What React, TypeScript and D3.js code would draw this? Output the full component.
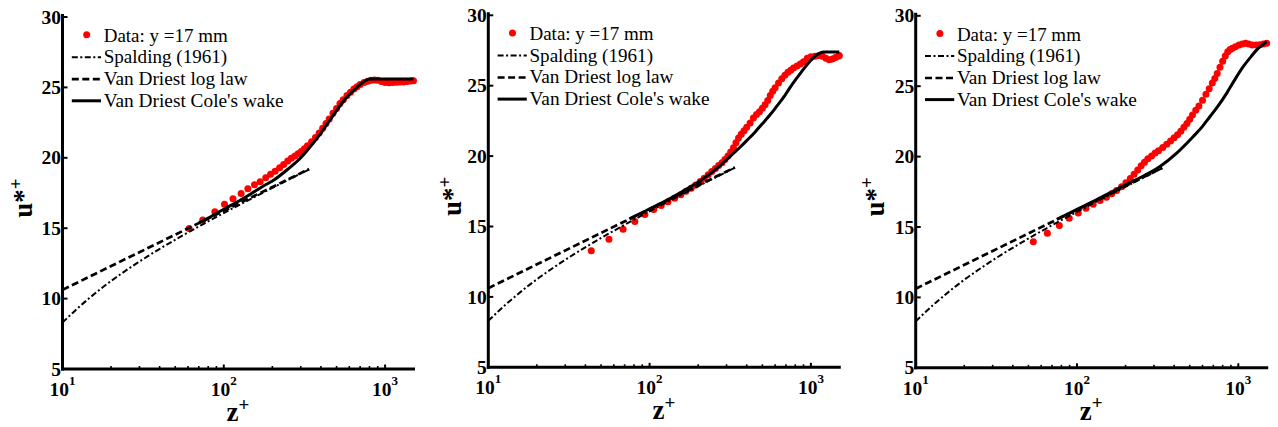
import React from 'react';
import * as d3 from 'd3';

// ---------- data ----------
const data1Z = [61, 74, 88, 101, 114, 128, 141, 155, 168, 182, 195, 208, 222, 235, 249, 262, 276, 289, 302, 316, 330, 350, 370, 390, 410, 430, 450, 475, 500, 525, 550, 580, 610, 640, 670, 700, 740, 780, 820, 860, 900, 950, 1000, 1060, 1120, 1180, 1240, 1300, 1370, 1440, 1500];
const data1U = [14.98, 15.58, 16.16, 16.7, 17.1, 17.46, 17.8, 18.08, 18.3, 18.58, 18.84, 19.05, 19.3, 19.52, 19.77, 19.96, 20.12, 20.28, 20.45, 20.64, 20.85, 21.14, 21.45, 21.77, 22.1, 22.43, 22.75, 23.16, 23.5, 23.85, 24.12, 24.42, 24.66, 24.88, 25.05, 25.2, 25.35, 25.43, 25.5, 25.52, 25.5, 25.42, 25.35, 25.33, 25.35, 25.36, 25.38, 25.38, 25.42, 25.45, 25.48];

const data2Z = [43.5, 56, 68.5, 81, 93.5, 106, 118, 130, 143, 156, 168, 181, 193, 206, 218, 231, 243, 256, 268, 281, 293, 306, 318, 331, 343, 356, 370, 385, 400, 420, 440, 460, 480, 500, 520, 540, 560, 580, 600, 630, 660, 690, 720, 750, 780, 820, 860, 900, 950, 1000, 1060, 1120, 1180, 1240, 1300, 1360, 1420, 1480, 1500];
const data2U = [13.28, 14.1, 14.8, 15.36, 15.86, 16.2, 16.5, 16.75, 17.0, 17.25, 17.5, 17.72, 17.95, 18.2, 18.43, 18.68, 18.9, 19.12, 19.33, 19.53, 19.75, 20.0, 20.3, 20.6, 20.95, 21.28, 21.55, 21.8, 22.05, 22.35, 22.7, 22.95, 23.15, 23.4, 23.65, 23.95, 24.3, 24.6, 24.85, 25.2, 25.5, 25.75, 25.95, 26.1, 26.25, 26.4, 26.55, 26.7, 26.95, 27.05, 27.1, 27.15, 27.1, 26.95, 26.85, 26.9, 27.0, 27.1, 27.15];

const data3Z = [53.6, 65.5, 77.7, 89.5, 101.8, 113.6, 126, 139, 152, 164, 176, 189, 201, 214, 226, 238, 250, 262, 275, 290, 305, 320, 340, 360, 380, 400, 420, 440, 460, 480, 500, 520, 545, 570, 600, 630, 660, 690, 715, 740, 770, 800, 830, 860, 890, 920, 960, 1010, 1060, 1110, 1160, 1220, 1290, 1360, 1430, 1500];
const data3U = [13.95, 14.55, 15.1, 15.63, 16.0, 16.34, 16.62, 16.89, 17.12, 17.36, 17.6, 17.86, 18.15, 18.45, 18.75, 19.05, 19.35, 19.6, 19.85, 20.05, 20.25, 20.42, 20.65, 20.88, 21.1, 21.33, 21.55, 21.8, 22.08, 22.35, 22.65, 22.95, 23.3, 23.6, 24.0, 24.42, 24.82, 25.22, 25.55, 25.9, 26.35, 26.78, 27.15, 27.45, 27.6, 27.7, 27.8, 27.92, 28.0, 28.05, 28.0, 27.92, 27.92, 27.95, 28.0, 28.05];

const spaldingZ = [10, 11.6, 12.95, 14.55, 16.45, 18.7, 21.45, 24.76, 28.78, 33.67, 39.66, 46.98, 55.95, 66.98, 80.5, 97.1, 117.5, 142.5, 173.3, 211.2, 257.6, 314.8, 338];
const spaldingU = [8.3, 9.0, 9.5, 10, 10.5, 11, 11.5, 12, 12.5, 13, 13.5, 14, 14.5, 15, 15.5, 16, 16.5, 17, 17.5, 18, 18.5, 19, 19.17];

const logLawZ = [10, 338];
const logLawU = [10.62, 19.2];

const wake1Z = [70, 80, 100, 125, 150, 175, 200, 250, 300, 350, 400, 450, 500, 550, 600, 650, 700, 750, 800, 1500];
const wake1U = [15.38, 15.72, 16.35, 16.95, 17.5, 17.98, 18.35, 19.2, 20.0, 20.9, 21.75, 22.6, 23.35, 24.0, 24.5, 24.88, 25.2, 25.45, 25.6, 25.6];

const wake2Z = [75, 80, 100, 125, 150, 178, 200, 250, 300, 350, 400, 450, 500, 560, 620, 680, 740, 800, 870, 940, 1000, 1060, 1130, 1200, 1500];
const wake2U = [15.54, 15.7, 16.25, 16.8, 17.3, 17.8, 18.15, 18.95, 19.75, 20.45, 21.1, 21.7, 22.3, 22.95, 23.6, 24.2, 24.85, 25.4, 25.95, 26.45, 26.8, 27.1, 27.3, 27.4, 27.4];

const wake3Z = [75, 80, 100, 130, 160, 200, 258, 327, 415, 526, 600, 668, 750, 848, 950, 1075, 1200, 1300, 1400, 1500];
const wake3U = [15.54, 15.7, 16.25, 16.9, 17.42, 18.0, 18.62, 19.3, 20.25, 21.43, 22.15, 22.85, 23.6, 24.51, 25.45, 26.4, 27.1, 27.58, 27.9, 28.15];

const yTicks = [5, 10, 15, 20, 25, 30];
const xMajorTicks = [10, 100, 1000];
const xMajorExp = ['1', '2', '3'];
const xMinorTicks = [20, 30, 40, 50, 60, 70, 80, 90, 200, 300, 400, 500, 600, 700, 800, 900];
const legendLabels = ['Data: y =17 mm', 'Spalding (1961)', 'Van Driest log law', "Van Driest Cole's wake"];
const legendWidths = [124, 123.5, 144, 180];

// ---------- layout ----------
const W = 1278;
const H = 427;
const PLOT_W = 351;
const PLOT_H = 352;
const FONT = "'Liberation Serif', 'Times New Roman', Times, serif";
const DASHDOT = '6,2.5,2,2.5';
const DASH = '7,3.5';

const layouts = [
  { left: 62.5, top: 17, ylabelDx: -30.5 },
  { left: 488.3, top: 15.3, ylabelDx: -27 },
  { left: 915.7, top: 15.8, ylabelDx: -32 },
];

const zip = (a: number[], b: number[]): [number, number][] => a.map((v, i) => [v, b[i]]);

type PanelProps = {
  layout: { left: number; top: number; ylabelDx: number };
  dataZ: number[];
  dataU: number[];
  wakeZ: number[];
  wakeU: number[];
};

function Panel({ layout, dataZ, dataU, wakeZ, wakeU }: PanelProps) {
  const { left, top, ylabelDx } = layout;
  const bottom = top + PLOT_H;
  const right = left + PLOT_W;
  const x = d3.scaleLog().domain([10, 1500]).range([left, right]);
  const y = d3.scaleLinear().domain([5, 30]).range([bottom, top]);
  const smooth = d3
    .line<[number, number]>()
    .x((d) => x(d[0]))
    .y((d) => y(d[1]))
    .curve(d3.curveMonotoneX);
  const straight = d3
    .line<[number, number]>()
    .x((d) => x(d[0]))
    .y((d) => y(d[1]));

  const data = zip(dataZ, dataU);
  const cx = (left + right) / 2;

  return (
    <g>
      {/* data points */}
      {data.map((d, i) => (
        <circle key={'d' + i} cx={x(d[0])} cy={y(d[1])} r={3.5} fill="#ff0000" />
      ))}
      {/* Spalding */}
      <path d={smooth(zip(spaldingZ, spaldingU)) || ''} fill="none" stroke="#000" strokeWidth={2} strokeDasharray={DASHDOT} />
      {/* log law */}
      <path d={straight(zip(logLawZ, logLawU)) || ''} fill="none" stroke="#000" strokeWidth={2.7} strokeDasharray={DASH} />
      {/* Cole's wake */}
      <path d={smooth(zip(wakeZ, wakeU)) || ''} fill="none" stroke="#000" strokeWidth={3} />

      {/* axes */}
      <line x1={left} y1={top - 1.5} x2={left} y2={bottom} stroke="#000" strokeWidth={3} strokeLinecap="square" />
      <line x1={left} y1={bottom} x2={right} y2={bottom} stroke="#000" strokeWidth={3} strokeLinecap="square" />
      {yTicks.slice(1).map((t) => (
        <line key={'yt' + t} x1={left} x2={left + 5} y1={y(t)} y2={y(t)} stroke="#000" strokeWidth={2} />
      ))}
      {xMajorTicks.slice(1).map((t) => (
        <line key={'xt' + t} x1={x(t)} x2={x(t)} y1={bottom} y2={bottom - 4.5} stroke="#000" strokeWidth={2} />
      ))}
      {xMinorTicks.map((t) => (
        <line key={'xm' + t} x1={x(t)} x2={x(t)} y1={bottom} y2={bottom - 3} stroke="#000" strokeWidth={1.6} />
      ))}

      {/* tick labels */}
      {yTicks.map((t) => (
        <text key={'yl' + t} x={left - 1.5} y={y(t)} dy="0.34em" textAnchor="end" fontFamily={FONT} fontSize={19.5} fontWeight="bold" fill="#000">
          {t}
        </text>
      ))}
      {xMajorTicks.map((t, i) => (
        <text key={'xl' + t} x={x(t)} y={bottom + 27} textAnchor="middle" fontFamily={FONT} fontSize={19.5} fontWeight="bold" fill="#000">
          10
          <tspan dy={-11} fontSize={13}>{xMajorExp[i]}</tspan>
        </text>
      ))}

      {/* axis labels */}
      <text x={cx} y={bottom + 52} textAnchor="middle" fontFamily={FONT} fontSize={27} fontWeight="bold" fill="#000">
        z<tspan dy={-10.5} fontSize={19}>+</tspan>
      </text>
      <text transform={`translate(${left + ylabelDx},${top + 181}) rotate(-90)`} textAnchor="middle" fontFamily={FONT} fontSize={27} fontWeight="bold" fill="#000">
        u*<tspan dy={-10.5} fontSize={19}>+</tspan>
      </text>

      {/* legend */}
      <circle cx={left + 24.2} cy={top + 17.7} r={3.5} fill="#ff0000" />
      <line x1={left + 9.3} x2={left + 38.5} y1={top + 40.3} y2={top + 40.3} stroke="#000" strokeWidth={2} strokeDasharray={DASHDOT} />
      <line x1={left + 9.3} x2={left + 38.5} y1={top + 62.2} y2={top + 62.2} stroke="#000" strokeWidth={2.7} strokeDasharray={DASH} />
      <line x1={left + 9.3} x2={left + 38.5} y1={top + 83.8} y2={top + 83.8} stroke="#000" strokeWidth={3} />
      {legendLabels.map((lab, i) => (
        <text key={'lg' + i} x={left + 41.2} y={top + 24.7 + i * 21.7} fontFamily={FONT} fontSize={19.5} fill="#000" textLength={legendWidths[i]} lengthAdjust="spacingAndGlyphs">
          {lab}
        </text>
      ))}
    </g>
  );
}

export default function App() {
  return (
    <svg width={W} height={H} viewBox={`0 0 ${W} ${H}`} style={{ position: 'absolute', left: 0, top: 0, background: '#fff' }}>
      <rect x={0} y={0} width={W} height={H} fill="#fff" />
      <Panel layout={layouts[0]} dataZ={data1Z} dataU={data1U} wakeZ={wake1Z} wakeU={wake1U} />
      <Panel layout={layouts[1]} dataZ={data2Z} dataU={data2U} wakeZ={wake2Z} wakeU={wake2U} />
      <Panel layout={layouts[2]} dataZ={data3Z} dataU={data3U} wakeZ={wake3Z} wakeU={wake3U} />
    </svg>
  );
}
